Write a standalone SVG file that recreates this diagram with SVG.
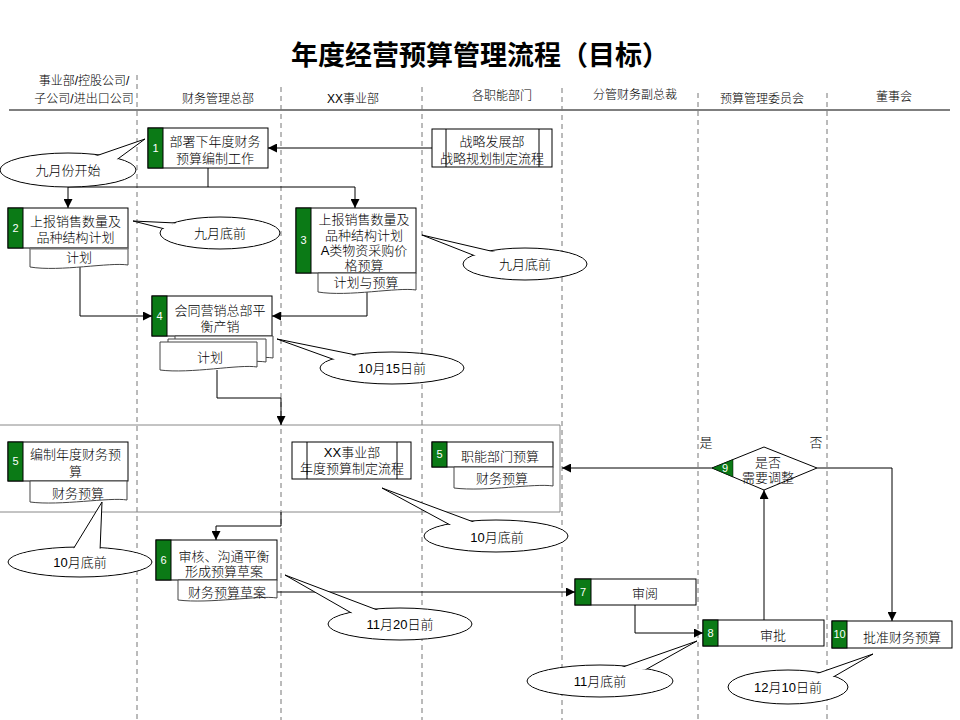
<svg xmlns="http://www.w3.org/2000/svg" width="960" height="720" viewBox="0 0 960 720">
<defs>
<style>
text{font-family:"Liberation Sans","Noto Sans CJK SC",sans-serif;fill:#000}
.t{font-size:13px;text-anchor:middle;font-weight:300}
.h{font-size:12px;text-anchor:middle;font-weight:300}
.n{font-size:11px;fill:#fff;text-anchor:middle}
.box{fill:#fff;stroke:#000;stroke-width:1}
.g{fill:#0b7a16;stroke:#000;stroke-width:1}
.doc{fill:#fff;stroke:#444;stroke-width:1}
.lane{stroke:#777;stroke-width:1;stroke-dasharray:5,4;fill:none}
.c{fill:none;stroke:#000;stroke-width:1}
.ell{fill:#fff;stroke:#000;stroke-width:1}
.ptr{fill:#fff;stroke:#000;stroke-width:1;stroke-linejoin:miter}
.cov{fill:#fff;stroke:none}
</style>
<marker id="ah" viewBox="0 0 10 10" refX="10" refY="5" markerWidth="9" markerHeight="9" markerUnits="userSpaceOnUse" orient="auto">
<path d="M0,0 L10,5 L0,10 z" fill="#000"/>
</marker>
</defs>
<rect width="960" height="720" fill="#fff"/>
<text x="480" y="65" style="font-size:27px;font-weight:bold;text-anchor:middle">年度经营预算管理流程（目标）</text>

<g id="header">
<text class="h" x="84" y="85">事业部/控股公司/</text>
<text class="h" x="84" y="103">子公司/进出口公司</text>
<text class="h" x="218" y="103">财务管理总部</text>
<text class="h" x="353" y="103">XX事业部</text>
<text class="h" x="502" y="100">各职能部门</text>
<text class="h" x="635" y="99">分管财务副总裁</text>
<text class="h" x="762" y="103">预算管理委员会</text>
<text class="h" x="894" y="101">董事会</text>
<line x1="9" y1="110" x2="950" y2="110" stroke="#000" stroke-width="1.2"/>
</g>

<g id="lanes">
<line class="lane" x1="137" y1="75" x2="137" y2="720"/>
<line class="lane" x1="281" y1="87" x2="281" y2="720"/>
<line class="lane" x1="422" y1="87" x2="422" y2="720"/>
<line class="lane" x1="562" y1="88" x2="562" y2="720"/>
<line class="lane" x1="698" y1="93" x2="698" y2="720"/>
<line class="lane" x1="827" y1="93" x2="827" y2="720"/>
</g>

<g id="region">
<polyline points="0,425 560,425 560,512 0,512" fill="none" stroke="#888" stroke-width="1"/>
</g>

<g id="connectors">
<line class="c" x1="432" y1="148" x2="268" y2="148" marker-end="url(#ah)"/>
<polyline class="c" points="208,168 208,187 68,187 68,208" marker-end="url(#ah)"/>
<polyline class="c" points="208,187 355,187 355,208" marker-end="url(#ah)"/>
<polyline class="c" points="80,267 80,316 152,316" marker-end="url(#ah)"/>
<polyline class="c" points="367,292 367,316 272,316" marker-end="url(#ah)"/>
<polyline class="c" points="217,370 217,398 281,398 281,425" marker-end="url(#ah)"/>
<polyline class="c" points="281,512 281,526 216,526 216,540" marker-end="url(#ah)"/>
<line class="c" x1="277" y1="592" x2="575" y2="592" marker-end="url(#ah)"/>
<polyline class="c" points="635,605 635,633 703,633" marker-end="url(#ah)"/>
<line class="c" x1="764" y1="620" x2="764" y2="490" marker-end="url(#ah)"/>
<line class="c" x1="712" y1="468" x2="562" y2="468" marker-end="url(#ah)"/>
<polyline class="c" points="817,468 892,468 892,621" marker-end="url(#ah)"/>
</g>

<g id="strategy">
<rect class="box" x="432" y="129" width="120" height="38"/>
<line class="c" x1="446" y1="129" x2="446" y2="167"/>
<line class="c" x1="539" y1="129" x2="539" y2="167"/>
<text class="t" x="492" y="146">战略发展部</text>
<text class="t" x="492" y="163">战略规划制定流程</text>
</g>

<g id="node1">
<rect class="box" x="148" y="128" width="120" height="40"/>
<rect class="g" x="148" y="128" width="15" height="40"/>
<text class="n" x="155.5" y="152">1</text>
<text class="t" x="215" y="146">部署下年度财务</text>
<text class="t" x="215" y="163">预算编制工作</text>
</g>

<g id="node2">
<rect class="box" x="8" y="208" width="120" height="40"/>
<rect class="g" x="8" y="208" width="15" height="40"/>
<text class="n" x="15.5" y="232">2</text>
<text class="t" x="75.5" y="226">上报销售数量及</text>
<text class="t" x="75.5" y="242">品种结构计划</text>
<path class="doc" d="M30,248 H128 V265 C110,262 60,272 30,267 Z"/>
<line x1="30" y1="248.5" x2="128" y2="248.5" stroke="#777" stroke-width="2"/>
<text class="t" x="79" y="262">计划</text>
</g>

<g id="node3">
<rect class="box" x="296" y="208" width="120" height="65"/>
<rect class="g" x="296" y="208" width="15" height="65"/>
<text class="n" x="303.5" y="244">3</text>
<text class="t" x="364" y="224">上报销售数量及</text>
<text class="t" x="364" y="240">品种结构计划</text>
<text class="t" x="364" y="255">A类物资采购价</text>
<text class="t" x="364" y="270">格预算</text>
<path class="doc" d="M318,273 H416 V290 C398,287 348,297 318,292 Z"/>
<text class="t" x="366" y="287">计划与预算</text>
</g>

<g id="node4">
<rect class="box" x="152" y="296" width="120" height="40"/>
<rect class="g" x="152" y="296" width="15" height="40"/>
<text class="n" x="159.5" y="320">4</text>
<text class="t" x="220" y="315">会同营销总部平</text>
<text class="t" x="220" y="331">衡产销</text>
<path class="doc" d="M175,336 H273 V358 C255,355 205,364 175,360 Z"/>
<path class="doc" d="M168,339 H266 V362 C248,359 198,368 168,364 Z"/>
<path class="doc" d="M160,342 H257 V367 C240,364 190,374 160,370 Z"/>
<text class="t" x="210" y="362">计划</text>
</g>

<g id="node5a">
<rect class="box" x="8" y="442" width="120" height="39"/>
<rect class="g" x="8" y="442" width="15" height="39"/>
<text class="n" x="15.5" y="465">5</text>
<text class="t" x="75.5" y="459">编制年度财务预</text>
<text class="t" x="75.5" y="476">算</text>
<path class="doc" d="M30,481 H127 V500 C110,497 60,506 30,502 Z"/>
<text class="t" x="78" y="498">财务预算</text>
</g>

<g id="xxproc">
<rect class="box" x="292" y="442" width="119" height="37"/>
<line class="c" x1="307" y1="442" x2="307" y2="479"/>
<line class="c" x1="397" y1="442" x2="397" y2="479"/>
<text class="t" x="352" y="457">XX事业部</text>
<text class="t" x="352" y="473">年度预算制定流程</text>
</g>

<g id="node5b">
<rect class="box" x="432" y="442" width="121" height="25"/>
<rect class="g" x="432" y="442" width="15" height="25"/>
<text class="n" x="439.5" y="458">5</text>
<text class="t" x="500" y="461">职能部门预算</text>
<path class="doc" d="M454,467 H553 V486 C535,483 485,492 454,488 Z"/>
<text class="t" x="502" y="483">财务预算</text>
</g>

<g id="node9">
<polygon class="box" points="712,468 764,447 817,468 764,490"/>
<polygon points="712,468 733,459.6 733,476.9" fill="#0b7a16" stroke="#000" stroke-width="0.5"/>
<text class="n" x="725" y="472">9</text>
<text class="t" x="768" y="467">是否</text>
<text class="t" x="768" y="482">需要调整</text>
<text class="t" x="706" y="447">是</text>
<text class="t" x="816" y="447">否</text>
</g>

<g id="node6">
<rect class="box" x="156" y="540" width="121" height="40"/>
<rect class="g" x="156" y="540" width="15" height="40"/>
<text class="n" x="163.5" y="564">6</text>
<text class="t" x="224" y="561">审核、沟通平衡</text>
<text class="t" x="224" y="576">形成预算草案</text>
<path class="doc" d="M178,580 H277 V598 C259,595 209,604 178,600 Z"/>
<text class="t" x="227" y="597">财务预算草案</text>
</g>

<g id="node7">
<rect class="box" x="575" y="579" width="121" height="26"/>
<rect class="g" x="575" y="579" width="16" height="26"/>
<text class="n" x="583" y="596">7</text>
<text class="t" x="645" y="598">审阅</text>
</g>

<g id="node8">
<rect class="box" x="703" y="620" width="121" height="26"/>
<rect class="g" x="703" y="620" width="15" height="26"/>
<text class="n" x="710.5" y="637">8</text>
<text class="t" x="773" y="640">审批</text>
</g>

<g id="node10">
<rect class="box" x="832" y="621" width="120" height="27"/>
<rect class="g" x="832" y="621" width="15" height="27"/>
<text class="n" x="839.5" y="638">10</text>
<text class="t" x="902" y="642">批准财务预算</text>
</g>

<g id="callouts">
<g id="c1">
<ellipse class="ell" cx="68" cy="170" rx="68" ry="17"/>
<path class="ptr" d="M90,158 L145,139 L115,161 Z"/>
<ellipse class="cov" cx="68" cy="170" rx="67" ry="16"/>
<text class="t" x="68" y="175">九月份开始</text>
</g>
<g id="c2">
<ellipse class="ell" cx="220" cy="233" rx="60" ry="16"/>
<path class="ptr" d="M176,223 L133,221 L165,229 Z"/>
<ellipse class="cov" cx="220" cy="233" rx="59" ry="15"/>
<text class="t" x="220" y="238">九月底前</text>
</g>
<g id="c3">
<ellipse class="ell" cx="525" cy="264" rx="62" ry="16"/>
<path class="ptr" d="M495,252 L422,235 L478,257 Z"/>
<ellipse class="cov" cx="525" cy="264" rx="61" ry="15"/>
<text class="t" x="525" y="269">九月底前</text>
</g>
<g id="c4">
<ellipse class="ell" cx="392" cy="368" rx="72" ry="16"/>
<path class="ptr" d="M356,355 L277,339 L338,361 Z"/>
<ellipse class="cov" cx="392" cy="368" rx="71" ry="15"/>
<text class="t" x="392" y="373">10月15日前</text>
</g>
<g id="c5">
<ellipse class="ell" cx="80" cy="562" rx="72" ry="15"/>
<path class="ptr" d="M72,551 L102,502 L100,551 Z"/>
<ellipse class="cov" cx="80" cy="562" rx="71" ry="14"/>
<text class="t" x="80" y="567">10月底前</text>
</g>
<g id="c6">
<ellipse class="ell" cx="496" cy="536" rx="72" ry="16"/>
<path class="ptr" d="M479,524 L382,488 L454,527 Z"/>
<ellipse class="cov" cx="496" cy="536" rx="71" ry="15"/>
<text class="t" x="497" y="542">10月底前</text>
</g>
<g id="c7">
<ellipse class="ell" cx="400" cy="624" rx="72" ry="16"/>
<path class="ptr" d="M380,611 L285,575 L355,615 Z"/>
<ellipse class="cov" cx="400" cy="624" rx="71" ry="15"/>
<text class="t" x="400" y="629">11月20日前</text>
</g>
<g id="c8">
<ellipse class="ell" cx="600" cy="681" rx="73" ry="16"/>
<path class="ptr" d="M620,668 L697,641 L645,670 Z"/>
<ellipse class="cov" cx="600" cy="681" rx="72" ry="15"/>
<text class="t" x="600" y="686">11月底前</text>
</g>
<g id="c9">
<ellipse class="ell" cx="788" cy="687" rx="60" ry="17"/>
<path class="ptr" d="M810,676 L873,654 L828,680 Z"/>
<ellipse class="cov" cx="788" cy="687" rx="59" ry="16"/>
<text class="t" x="788" y="692">12月10日前</text>
</g>
</g>
</svg>
